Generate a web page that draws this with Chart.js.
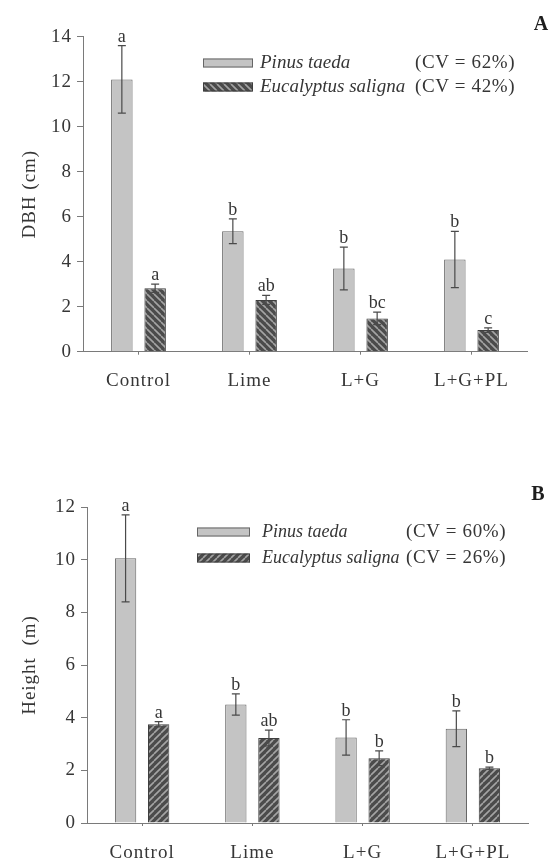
<!DOCTYPE html>
<html><head><meta charset="utf-8">
<script src="https://cdn.jsdelivr.net/npm/chart.js@4"></script>
<style>
html,body{margin:0;padding:0;background:#fff;width:554px;height:864px;overflow:hidden}
canvas{position:absolute;left:0}
</style></head>
<body>
<canvas id="cA" width="554" height="432" style="top:0"></canvas>
<canvas id="cB" width="554" height="432" style="top:432px"></canvas>
<script>
// ---------- data ----------
const categories = ['Control', 'Lime', 'L+G', 'L+G+PL'];
const seriesNames = ['Pinus taeda', 'Eucalyptus saligna'];

const dbhPinus = [12.1, 5.35, 3.7, 4.1];
const dbhPinusErr = [1.5, 0.55, 0.95, 1.25];
const dbhEuc = [2.82, 2.3, 1.48, 0.96];
const dbhEucErr = [0.18, 0.2, 0.28, 0.1];
const dbhPinusLetters = ['a', 'b', 'b', 'b'];
const dbhEucLetters = ['a', 'ab', 'bc', 'c'];
const dbhCV = ['(CV = 62%)', '(CV = 42%)'];
const dbhAxis = {min: 0, max: 14, step: 2, title: 'DBH (cm)'};

const htPinus = [10.05, 4.5, 3.25, 3.58];
const htPinusErr = [1.65, 0.4, 0.67, 0.68];
const htEuc = [3.75, 3.23, 2.46, 2.08];
const htEucErr = [0.1, 0.3, 0.28, 0.04];
const htPinusLetters = ['a', 'b', 'b', 'b'];
const htEucLetters = ['a', 'ab', 'b', 'b'];
const htCV = ['(CV = 60%)', '(CV = 26%)'];
const htAxis = {min: 0, max: 12, step: 2, title: 'Height  (m)'};

// ---------- styles ----------
const SERIF = "'Liberation Serif', 'Times New Roman', serif";
const TXT = '#363636';
const AXC = '#7a7a7a';
const PINUS_FILL = '#c4c4c4';

function hatch(dir) {
  const s = 7;
  const c = document.createElement('canvas');
  c.width = s; c.height = s;
  const g = c.getContext('2d');
  g.fillStyle = '#4b4b4b';
  g.fillRect(0, 0, s, s);
  g.strokeStyle = '#a4a4a4';
  g.lineWidth = 1.6;
  g.beginPath();
  for (let k = -1; k <= 1; k++) {
    const x0 = k * s;
    if (dir === '\\') { g.moveTo(x0, 0); g.lineTo(x0 + s, s); }
    else { g.moveTo(x0, s); g.lineTo(x0 + s, 0); }
  }
  g.stroke();
  return g.createPattern(c, 'repeat');
}

const annot = {
  id: 'annot',
  beforeDraw(chart) { chart.ctx.letterSpacing = '1px'; },
  afterDatasetsDraw(chart, args, o) {
    const ctx = chart.ctx, y = chart.scales.y;
    ctx.save();
    ctx.letterSpacing = '0px';
    chart.data.datasets.forEach((ds, i) => {
      const meta = chart.getDatasetMeta(i);
      meta.data.forEach((bar, j) => {
        const v = ds.data[j], e = o.errors[i][j];
        const yt = y.getPixelForValue(v + e), yb = y.getPixelForValue(v - e);
        ctx.strokeStyle = '#4a4a4a';
        ctx.lineWidth = 1.2;
        ctx.beginPath();
        ctx.moveTo(bar.x, yt); ctx.lineTo(bar.x, yb);
        ctx.moveTo(bar.x - 4, yt); ctx.lineTo(bar.x + 4, yt);
        ctx.moveTo(bar.x - 4, yb); ctx.lineTo(bar.x + 4, yb);
        ctx.stroke();
        ctx.fillStyle = TXT;
        ctx.font = '18px ' + SERIF;
        ctx.textAlign = 'center';
        ctx.textBaseline = 'alphabetic';
        ctx.fillText(o.letters[i][j], bar.x, yt - 4);
      });
    });
    // legend
    const L = o.legend;
    chart.data.datasets.forEach((ds, i) => {
      const cy = L.y + i * L.dy;
      ctx.fillStyle = ds.backgroundColor;
      ctx.fillRect(L.bx, cy - 4.5, L.bw, 9);
      ctx.strokeStyle = ds.borderColor;
      ctx.lineWidth = 1;
      ctx.strokeRect(L.bx + 0.5, cy - 4.5 + 0.5, L.bw - 1, 8);
      ctx.fillStyle = TXT;
      ctx.textAlign = 'left';
      ctx.textBaseline = 'middle';
      ctx.font = 'italic ' + L.fs + 'px ' + SERIF;
      ctx.letterSpacing = '0px';
      ctx.fillText(ds.label, L.tx, cy);
      ctx.font = '19px ' + SERIF;
      ctx.letterSpacing = '0.6px';
      ctx.fillText(o.cv[i], L.cx, cy);
    });
    // panel letter
    ctx.letterSpacing = '0px';
    ctx.font = 'bold 20px ' + SERIF;
    ctx.fillStyle = '#1e1e1e';
    ctx.textAlign = 'center';
    ctx.textBaseline = 'middle';
    ctx.fillText(o.panel.text, o.panel.x, o.panel.y);
    ctx.restore();
  }
};

function makeChart(id, pinus, pinusErr, euc, eucErr, lp, le, cv, axis, pattern, geo) {
  return new Chart(document.getElementById(id), {
    type: 'bar',
    data: {
      labels: categories,
      datasets: [
        {label: seriesNames[0], data: pinus, backgroundColor: PINUS_FILL, borderColor: '#666666', borderWidth: 1,
         categoryPercentage: 0.6, barPercentage: 0.645},
        {label: seriesNames[1], data: euc, backgroundColor: pattern, borderColor: '#3e3e3e', borderWidth: 1,
         categoryPercentage: 0.6, barPercentage: 0.645}
      ]
    },
    options: {
      responsive: false,
      animation: false,
      events: [],
      layout: {padding: {top: geo.top, right: 554 - geo.right, left: 0, bottom: 0}},
      plugins: {
        legend: {display: false},
        tooltip: {enabled: false},
        annot: {errors: [pinusErr, eucErr], letters: [lp, le], cv: cv, legend: geo.legend, panel: geo.panel}
      },
      scales: {
        x: {
          afterFit(s) { s.height = 432 - geo.bottom; },
          grid: {offset: false, drawOnChartArea: false, drawTicks: true, tickLength: 3, color: AXC},
          border: {display: true, color: AXC, width: 1},
          ticks: {font: {family: SERIF, size: 19}, color: TXT, padding: geo.xpad, maxRotation: 0}
        },
        y: {
          min: axis.min, max: axis.max,
          afterFit(s) { s.width = geo.left; },
          grid: {drawOnChartArea: false, drawTicks: true, tickLength: 6, color: AXC},
          border: {display: true, color: AXC, width: 1},
          ticks: {stepSize: axis.step, font: {family: SERIF, size: 19}, color: TXT, padding: 5},
          title: {display: true, text: axis.title, font: {family: SERIF, size: 19}, color: TXT,
                  padding: {top: 19, bottom: 0}}
        }
      }
    },
    plugins: [annot]
  });
}

makeChart('cA', dbhPinus, dbhPinusErr, dbhEuc, dbhEucErr, dbhPinusLetters, dbhEucLetters, dbhCV, dbhAxis, hatch('\\'), {
  top: 36.7, bottom: 351.7, left: 83, right: 527, xpad: 15,
  legend: {bx: 203, bw: 50, y: 63, dy: 24, tx: 260, cx: 415, fs: 19},
  panel: {text: 'A', x: 541, y: 25}
});
makeChart('cB', htPinus, htPinusErr, htEuc, htEucErr, htPinusLetters, htEucLetters, htCV, htAxis, hatch('/'), {
  top: 75, bottom: 391, left: 87, right: 528, xpad: 16,
  legend: {bx: 197, bw: 53, y: 100, dy: 26, tx: 262, cx: 406, fs: 18},
  panel: {text: 'B', x: 538, y: 63}
});
</script>
</body></html>
